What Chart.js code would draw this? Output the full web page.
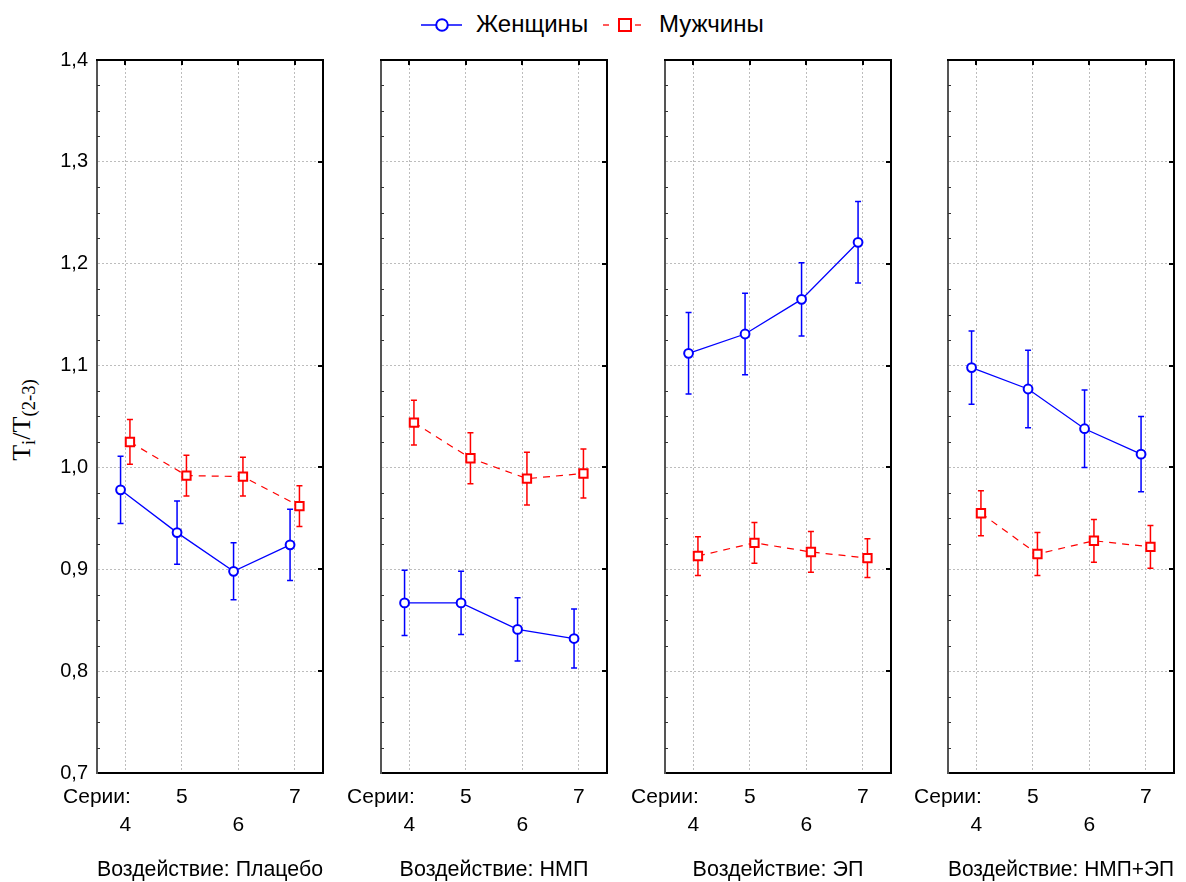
<!DOCTYPE html>
<html>
<head>
<meta charset="utf-8">
<script src="https://cdn.jsdelivr.net/npm/chart.js@4.4.1/dist/chart.umd.min.js"></script>
<style>
html,body{margin:0;padding:0;background:#fff;}
#wrap{position:relative;width:1186px;height:882px;overflow:hidden;font-family:'Liberation Sans',Arial,sans-serif;color:#000;}
#wrap canvas{position:absolute;top:0;}
.lgtext{position:absolute;top:11px;font-size:24px;line-height:26px;white-space:nowrap;}
#ytitle{position:absolute;left:22px;top:420px;transform:translate(-50%,-50%) rotate(-90deg);font-family:'Liberation Serif','Times New Roman',serif;font-size:26px;line-height:26px;white-space:nowrap;}
#ytitle sub{font-size:72%;vertical-align:-0.28em;line-height:0;}
#legendSym{position:absolute;left:0;top:0;}
</style>
</head>
<body>
<div id="wrap">
  <svg id="legendSym" width="1186" height="45">
    <line x1="421" y1="25" x2="462" y2="25" stroke="#0000ff" stroke-width="1.3"/>
    <circle cx="442" cy="25" r="5.8" fill="#fff" stroke="#0000ff" stroke-width="2"/>
    <line x1="603" y1="25" x2="609" y2="25" stroke="#ff0000" stroke-width="1.3"/>
    <line x1="635" y1="25" x2="641" y2="25" stroke="#ff0000" stroke-width="1.3"/>
    <rect x="619" y="19" width="12" height="12" fill="#fff" stroke="#ff0000" stroke-width="2"/>
  </svg>
  <span class="lgtext" id="lgW" style="left:476px;"></span>
  <span class="lgtext" id="lgM" style="left:659px;"></span>
  <div id="ytitle">T<sub>i</sub>/T<sub>(2-3)</sub></div>
</div>
<script>
// ---- data ----
const seriesLabel = 'Серии:';
const series = [4, 5, 6, 7];
const panelNames = ['Воздействие: Плацебо', 'Воздействие: НМП', 'Воздействие: ЭП', 'Воздействие: НМП+ЭП'];
const legendNames = ['Женщины', 'Мужчины'];
const yTicks = [0.7, 0.8, 0.9, 1.0, 1.1, 1.2, 1.3, 1.4];

const womenMeans = [
  [0.978, 0.936, 0.898, 0.924],
  [0.867, 0.867, 0.841, 0.832],
  [1.112, 1.131, 1.165, 1.221],
  [1.098, 1.077, 1.038, 1.013]
];
const womenErrs = [
  [0.033, 0.031, 0.028, 0.035],
  [0.032, 0.031, 0.031, 0.029],
  [0.040, 0.040, 0.036, 0.040],
  [0.036, 0.038, 0.038, 0.037]
];
const menMeans = [
  [1.025, 0.992, 0.991, 0.962],
  [1.044, 1.009, 0.989, 0.994],
  [0.913, 0.926, 0.917, 0.911],
  [0.955, 0.915, 0.928, 0.922]
];
const menErrs = [
  [0.022, 0.020, 0.019, 0.020],
  [0.022, 0.025, 0.026, 0.024],
  [0.019, 0.020, 0.020, 0.019],
  [0.022, 0.021, 0.021, 0.021]
];

// ---- layout ----
document.getElementById('lgW').textContent = legendNames[0];
document.getElementById('lgM').textContent = legendNames[1];

const BLUE = '#0000ff', RED = '#ff0000';
const panelLefts = [97, 381, 665, 948];
const panelWidth = 226;
const areaTop = 60, areaBottom = 773, H = 882;
const shift = 0.083;

Chart.defaults.font.family = "'Liberation Sans', Arial, sans-serif";
Chart.defaults.font.size = 21;
Chart.defaults.color = '#000';

const errorBars = {
  id: 'errorBars',
  beforeDatasetsDraw(chart) {
    const ctx = chart.ctx, ys = chart.scales.y;
    chart.data.datasets.forEach((ds, i) => {
      const meta = chart.getDatasetMeta(i);
      ctx.save();
      ctx.strokeStyle = ds.borderColor;
      ctx.lineWidth = 1.5;
      ctx.setLineDash([]);
      meta.data.forEach((pt, j) => {
        const raw = ds.data[j];
        const yT = ys.getPixelForValue(raw.y + raw.e);
        const yB = ys.getPixelForValue(raw.y - raw.e);
        ctx.beginPath();
        ctx.moveTo(pt.x, yT); ctx.lineTo(pt.x, yB);
        ctx.moveTo(pt.x - 3, yT); ctx.lineTo(pt.x + 3, yT);
        ctx.moveTo(pt.x - 3, yB); ctx.lineTo(pt.x + 3, yB);
        ctx.stroke();
      });
      ctx.restore();
    });
  }
};

const frame = {
  id: 'frame',
  afterDraw(chart) {
    const ctx = chart.ctx;
    const {left, right, top, bottom} = chart.chartArea;
    const xs = chart.scales.x, ys = chart.scales.y;
    ctx.save();
    ctx.setLineDash([]);
    ctx.strokeStyle = '#000';
    ctx.lineWidth = 2;
    ctx.beginPath();
    ctx.moveTo(left - 1, top); ctx.lineTo(right, top); ctx.lineTo(right, bottom + 1);
    ctx.stroke();
    ctx.beginPath();
    series.forEach(s => {
      const px = Math.round(xs.getPixelForValue(s));
      ctx.moveTo(px, top); ctx.lineTo(px, top + 5);
    });
    yTicks.forEach(v => {
      if (v <= 0.75 || v >= 1.35) return;
      const py = Math.round(ys.getPixelForValue(v));
      ctx.moveTo(right, py); ctx.lineTo(right - 5, py);
    });
    ctx.stroke();
    ctx.strokeStyle = '#333';
    ctx.lineWidth = 1;
    ctx.beginPath();
    for (let k = 1; k < yTicks.length; k++) {
      const a = yTicks[k - 1], b = yTicks[k];
      for (let m = 1; m < 4; m++) {
        const py = Math.round(ys.getPixelForValue(a + (b - a) * m / 4)) + 0.5;
        ctx.moveTo(left, py); ctx.lineTo(left + 3, py);
      }
    }
    ctx.stroke();
    ctx.restore();
  }
};

const wrap = document.getElementById('wrap');

panelNames.forEach((name, p) => {
  const L = p === 0 ? panelLefts[0] : 50;
  const R = p === 3 ? (1186 - panelLefts[3] - panelWidth) : 25;
  const cv = document.createElement('canvas');
  cv.width = L + panelWidth + R;
  cv.height = H;
  cv.style.left = (panelLefts[p] - L) + 'px';
  cv.style.width = cv.width + 'px';
  cv.style.height = H + 'px';
  wrap.appendChild(cv);

  const wData = series.map((s, j) => ({x: s - shift, y: womenMeans[p][j], e: womenErrs[p][j]}));
  const mData = series.map((s, j) => ({x: s + shift, y: menMeans[p][j], e: menErrs[p][j]}));

  new Chart(cv.getContext('2d'), {
    type: 'line',
    data: {
      datasets: [
        {
          label: legendNames[0], data: wData,
          borderColor: BLUE, borderWidth: 1.3,
          pointStyle: 'circle', pointRadius: 4.4, pointBorderWidth: 2,
          pointBackgroundColor: '#fff', pointBorderColor: BLUE,
          tension: 0, fill: false
        },
        {
          label: legendNames[1], data: mData,
          borderColor: RED, borderWidth: 1.2, borderDash: [7, 6],
          pointStyle: 'rect', pointRadius: 5.9, pointBorderWidth: 2,
          pointBackgroundColor: '#fff', pointBorderColor: RED,
          tension: 0, fill: false
        }
      ]
    },
    options: {
      responsive: false,
      animation: false,
      events: [],
      layout: {padding: {left: 0, right: R, top: areaTop, bottom: 0}},
      plugins: {legend: {display: false}, tooltip: {enabled: false}},
      scales: {
        x: {
          type: 'linear', min: 3.5, max: 7.5,
          afterBuildTicks(scale) {
            scale.ticks = [{value: 3.5}].concat(series.map(v => ({value: v})));
          },
          afterFit(scale) { scale.height = H - areaBottom; },
          ticks: {
            autoSkip: false, maxRotation: 0, minRotation: 0, padding: 10,
            font: {size: 21, lineHeight: 28 / 21},
            callback(v) {
              if (v === 3.5) return [seriesLabel, ''];
              const idx = series.indexOf(v);
              return idx % 2 === 0 ? ['', String(v)] : [String(v), ''];
            }
          },
          grid: {
            drawTicks: false,
            color: (c) => (c.tick && c.tick.value === 3.5) ? 'rgba(0,0,0,0)' : '#bdbdbd',
            lineWidth: 1
          },
          border: {display: true, color: '#000', width: 2, dash: [2, 2]},
          title: {display: true, text: name, font: {size: 21.5, lineHeight: 1.0}, padding: {top: 0, bottom: 1}}
        },
        y: {
          type: 'linear', min: 0.7, max: 1.4,
          afterBuildTicks(scale) {
            scale.ticks = yTicks.map(v => ({value: v}));
          },
          afterFit(scale) { scale.width = L; },
          ticks: {
            display: p === 0, padding: 9,
            font: {size: 20},
            callback: (v) => Number(v).toFixed(1).replace('.', ',')
          },
          grid: {
            drawTicks: false,
            color: (c) => (c.tick && (c.tick.value <= 0.701 || c.tick.value >= 1.399)) ? 'rgba(0,0,0,0)' : '#bdbdbd',
            lineWidth: 1
          },
          border: {display: true, color: '#555', width: 2, dash: [2, 2]}
        }
      }
    },
    plugins: [errorBars, frame]
  });
});
</script>
</body>
</html>
